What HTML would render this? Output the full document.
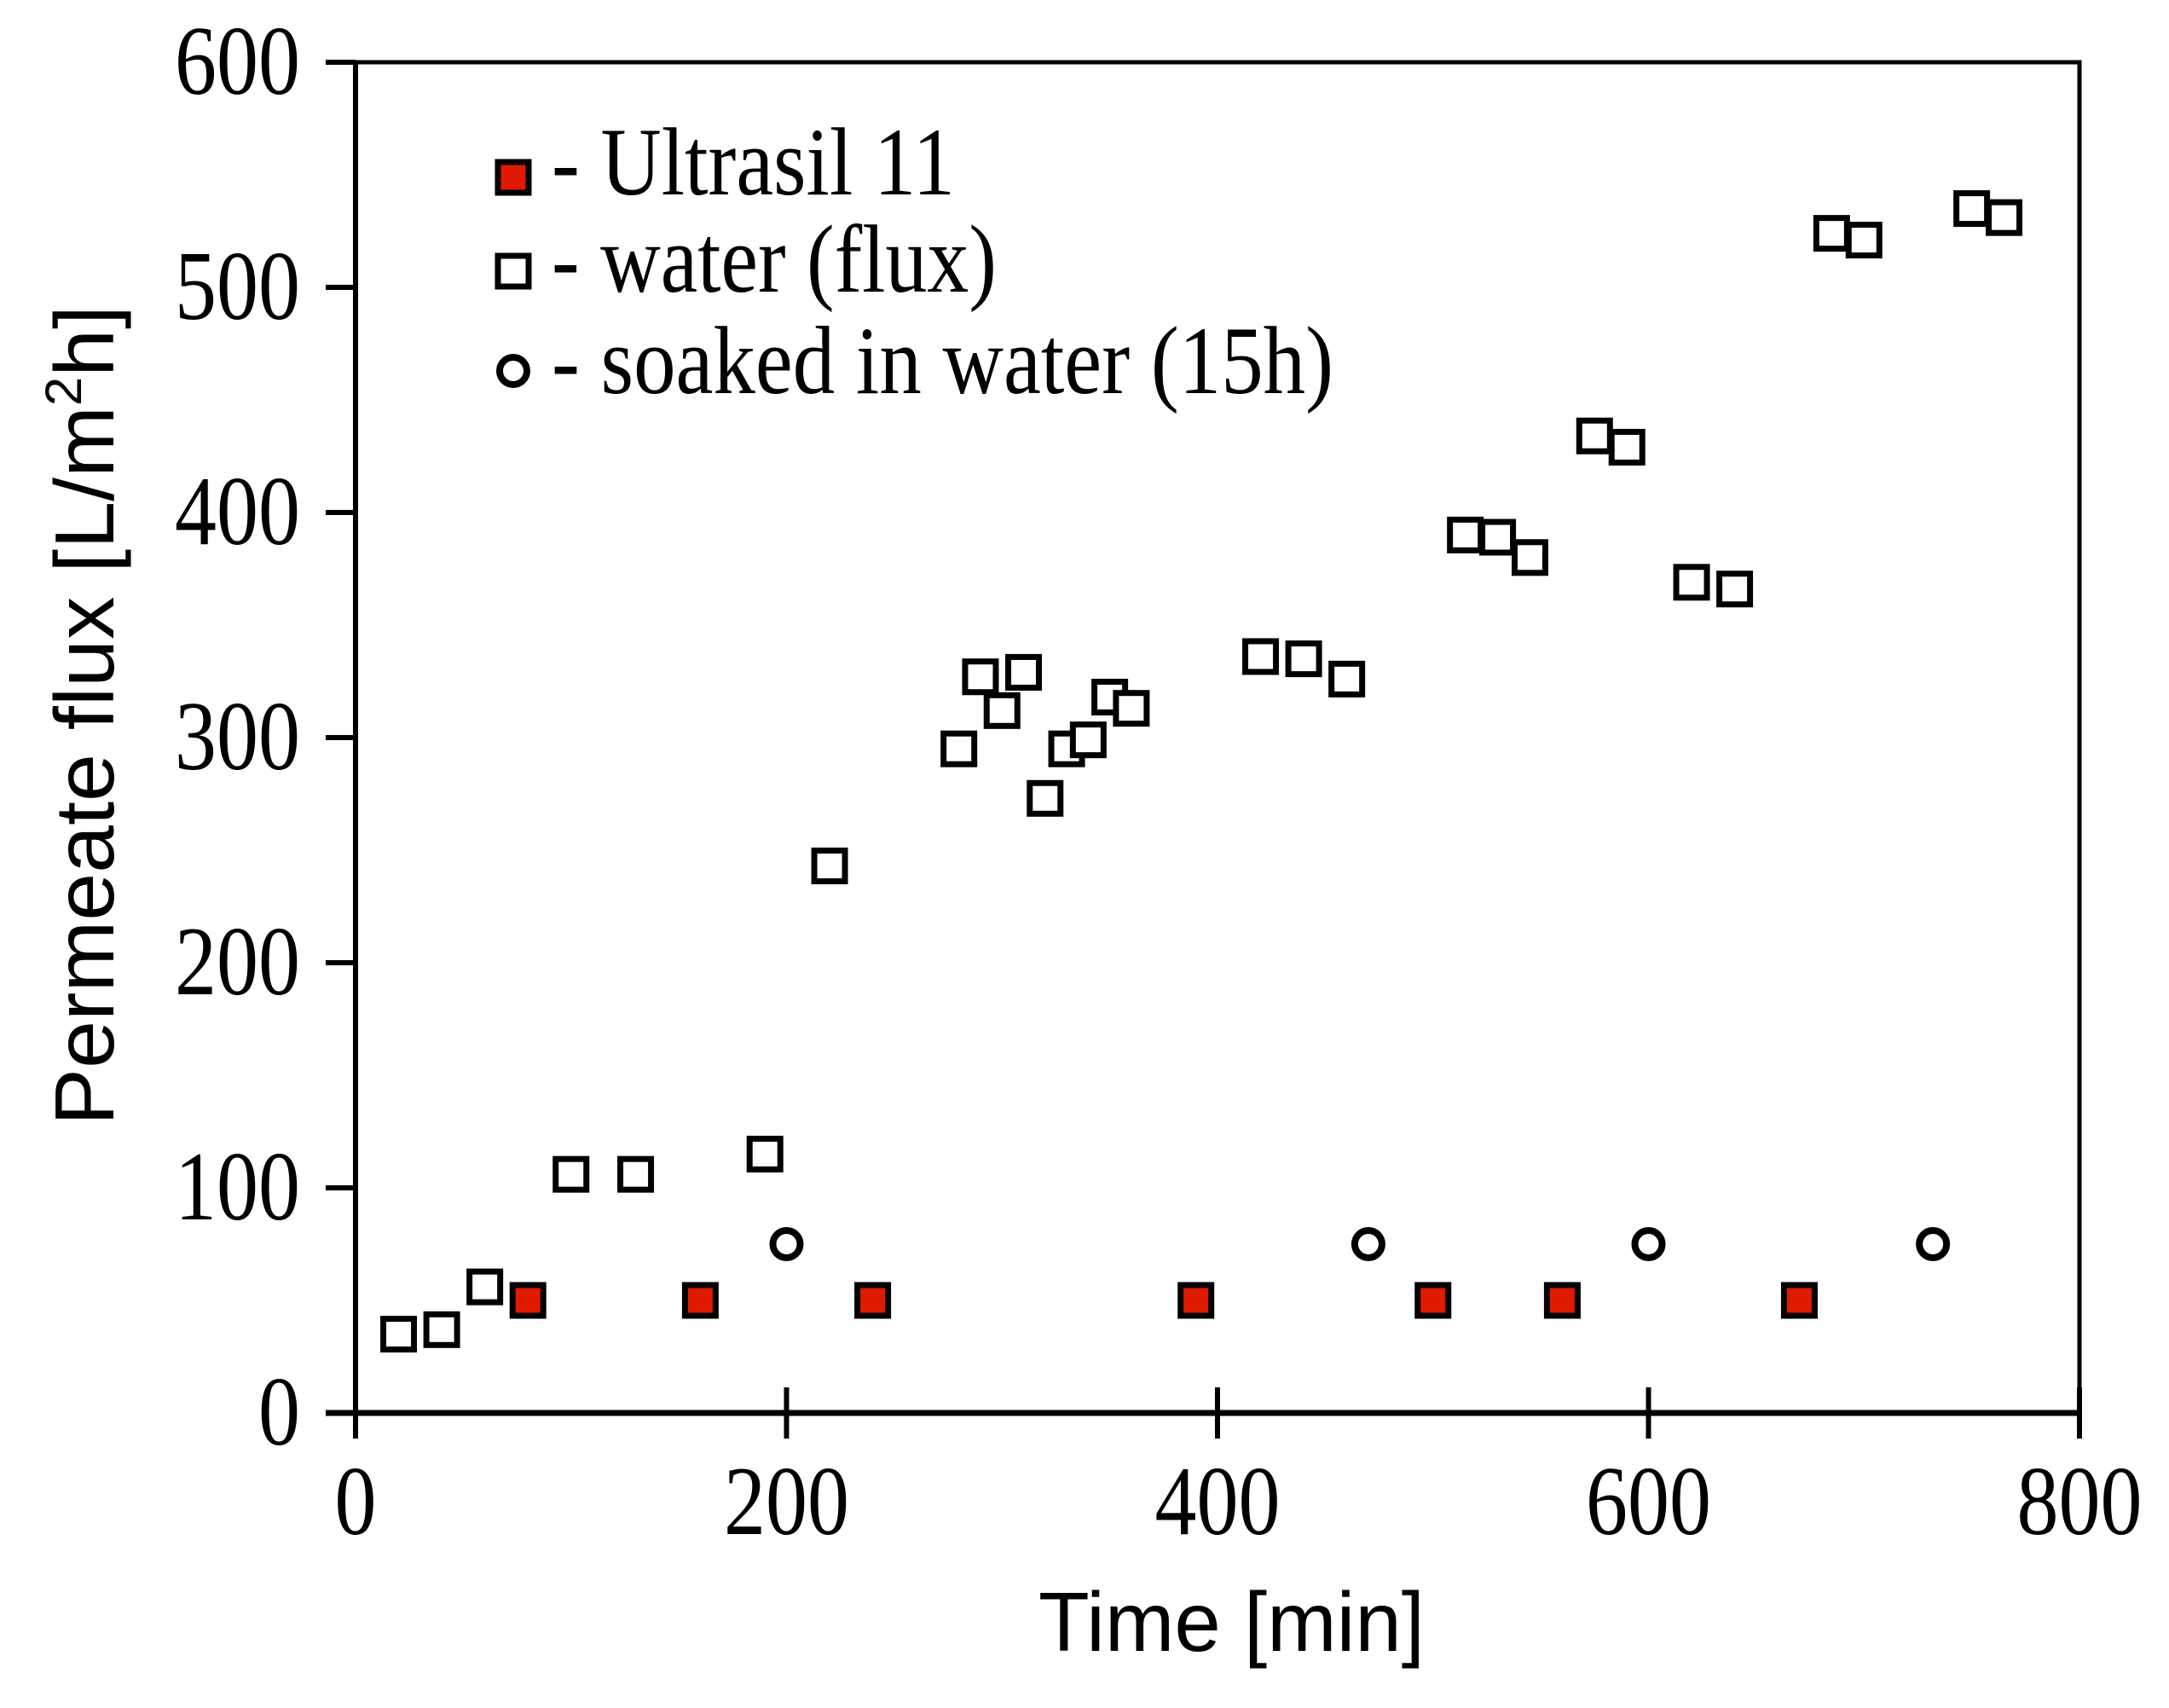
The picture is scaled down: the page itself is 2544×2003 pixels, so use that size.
<!DOCTYPE html>
<html><head><meta charset="utf-8"><style>html,body{margin:0;padding:0;background:#fff}svg{display:block}</style></head>
<body>
<svg id="chart" width="2544" height="2003" viewBox="0 0 2544 2003" xmlns="http://www.w3.org/2000/svg">
<g id="axes"></g>
<g id="marks"></g>
<g id="legend"></g>
</svg>
<script>
const xTicks = [0, 200, 400, 600, 800];
const yTicks = [0, 100, 200, 300, 400, 500, 600];
const waterX = [20, 40, 60, 100, 130, 190, 220, 280, 290, 300, 310, 320, 330, 340, 350, 360, 420, 440, 460, 515, 530, 545, 575, 590, 620, 640, 685, 700, 750, 765];
const waterY = [35, 37, 56, 106, 106, 115, 243, 295, 327, 312, 329, 273, 295, 299, 318, 313, 336, 335, 326, 390, 389, 380, 434, 429, 369, 366, 524, 521, 535, 531];
const ultraX = [80, 160, 240, 390, 500, 560, 670];
const ultraY = [50, 50, 50, 50, 50, 50, 50];
const soakX = [200, 470, 600, 732];
const soakY = [75, 75, 75, 75];

const NS = 'http://www.w3.org/2000/svg';
const L = 417, R = 2439, T = 73, B = 1657;
const sx = v => L + (v - 0) / 800 * (R - L);
const sy = v => B - (v - 0) / 600 * (B - T);
function mk(tag, attrs, parent) {
  const e = document.createElementNS(NS, tag);
  for (const k in attrs) e.setAttribute(k, attrs[k]);
  parent.appendChild(e);
  return e;
}
const axes = document.getElementById('axes');
const marks = document.getElementById('marks');
const legend = document.getElementById('legend');

let fr = mk('rect', {x: L, y: T, width: R - L, height: B - T, fill: 'none', stroke: '#000', 'stroke-width': 5}, axes);


let xa = mk('line', {x1: L - 35, y1: B, x2: R, y2: B, stroke: '#000', 'stroke-width': 7}, axes);


let ya = mk('line', {x1: L, y1: T, x2: L, y2: B + 30, stroke: '#000', 'stroke-width': 6}, axes);



xTicks.forEach(v => {
  const t = mk('line', {x1: sx(v), y1: B - 30, x2: sx(v), y2: B + 30, stroke: '#000', 'stroke-width': 6}, axes);
  
  
  const s = String(v);
  const lb = mk('text', {x: sx(v), y: 1799, 'text-anchor': 'middle', 'font-family': 'Liberation Serif, serif', 'font-size': 115, textLength: s.length * 49, lengthAdjust: 'spacingAndGlyphs'}, axes);
  lb.textContent = s;
  
  
});
yTicks.forEach(v => {
  const t = mk('line', {x1: L - 35, y1: sy(v), x2: L, y2: sy(v), stroke: '#000', 'stroke-width': 6}, axes);
  
  
  const s = String(v);
  const lb = mk('text', {x: 352, y: sy(v) + 37, 'text-anchor': 'end', 'font-family': 'Liberation Serif, serif', 'font-size': 115, textLength: s.length * 49, lengthAdjust: 'spacingAndGlyphs'}, axes);
  lb.textContent = s;
  
  
});
let xt = mk('text', {x: 1218, y: 1936, 'font-family': 'Liberation Sans, sans-serif', 'font-size': 98, textLength: 453, lengthAdjust: 'spacingAndGlyphs'}, axes);
xt.textContent = 'Time [min]';


let yt = mk('text', {x: 0, y: 0, 'font-family': 'Liberation Sans, sans-serif', 'font-size': 98, textLength: 962, lengthAdjust: 'spacingAndGlyphs', transform: 'translate(133,1320) rotate(-90)'}, axes);
yt.innerHTML = 'Permeate flux [L/m<tspan font-size="60" dy="-38">2</tspan><tspan dy="38">h]</tspan>';



function square(x, y, fill, parent) {
  return mk('rect', {x: x - 18, y: y - 18, width: 36, height: 36, fill: fill, stroke: '#000', 'stroke-width': 7}, parent);
}
function circle(x, y, parent) {
  return mk('circle', {cx: x, cy: y, r: 16, fill: '#fff', stroke: '#000', 'stroke-width': 8}, parent);
}
waterX.forEach((v, i) => {
  const m = square(sx(v), sy(waterY[i]), '#fff', marks);
  
  
});
ultraX.forEach((v, i) => {
  const m = square(sx(v), sy(ultraY[i]), '#e01a00', marks);
  
  
});
soakX.forEach((v, i) => {
  const m = circle(sx(v), sy(soakY[i]), marks);
  
  
});

let lm1 = square(602, 208, '#e01a00', legend);


let lm2 = square(602, 318, '#fff', legend);


let lm3 = circle(602, 435, legend);


const legTexts = ['- Ultrasil 11', '- water (flux)', '- soaked in water (15h)'];
const legY = [228, 342, 461];
const legW = [473, 522, 917];
legTexts.forEach((s, i) => {
  const t = mk('text', {x: 647, y: legY[i], 'font-family': 'Liberation Serif, serif', 'font-size': 113, textLength: legW[i], lengthAdjust: 'spacingAndGlyphs'}, legend);
  t.textContent = s;
  
  
});
</script>
</body></html>
